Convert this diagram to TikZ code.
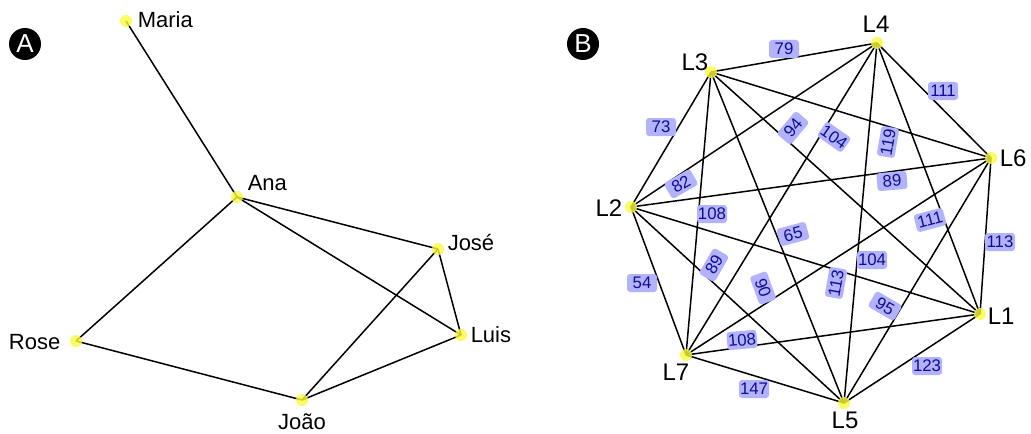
\documentclass[tikz,border=0pt]{standalone}
\usepackage{fontspec}
\setmainfont{Liberation Sans}
\usepackage{tikz}

\definecolor{spot}{RGB}{250,250,60}
\definecolor{wfill}{RGB}{178,178,255}
\definecolor{wtext}{RGB}{15,15,140}
\tikzset{
  spotnode/.style={circle,fill=spot,fill opacity=.8,inner sep=0pt,minimum size=6pt},
  person/.style={inner sep=0pt,font=\fontsize{11}{13}\selectfont},
  city/.style={inner sep=0pt,font=\fontsize{12}{14}\selectfont},
  weight/.style={rounded corners=1.5pt,fill=wfill,text=wtext,inner sep=0pt,
    minimum width=15pt,minimum height=9pt,font=\fontsize{8.4}{9}\selectfont},
  panel/.style={circle,fill=black,text=white,inner sep=0pt,minimum size=16pt,
    font=\fontsize{13}{15}\selectfont}
}

\begin{document}
\begin{tikzpicture}[x=0.5pt,y=-0.5pt,line width=0.75pt]
  \useasboundingbox (0,0) rectangle (1031,433);
  \node[panel] (A) at (25,44) {A};
  \node[panel] (B) at (583,44) {B};

  % friendship network
  \foreach \n/\x/\y in {maria/126/21,ana/237/197,jose/438/249,luis/461/335,rose/76/341,joao/302/400}{
    \coordinate (\n) at (\x,\y);
  }
  \foreach \a/\b in {maria/ana,ana/rose,ana/jose,ana/luis,jose/luis,jose/joao,rose/joao,joao/luis}{
    \draw (\a) -- (\b);
  }
  \foreach \n in {maria,ana,jose,luis,rose,joao}{
    \node[spotnode] (\n-dot) at (\n) {};
  }
  \node[person,anchor=west] (maria-txt) at (137,20) {Maria};
  \node[person,anchor=west] (ana-txt) at (247,183) {Ana};
  \node[person,anchor=west] (jose-txt) at (447,243) {José};
  \node[person,anchor=west] (luis-txt) at (470,335) {Luis};
  \node[person,anchor=east] (rose-txt) at (61,342) {Rose};
  \node[person,anchor=base] (joao-txt) at (302,429) {João};

  % distances between the seven cities
  \foreach \n/\x/\y in {L1/980/314,L2/631/207,L3/711/72,L4/877/43,L5/844/403,L6/991/158,L7/686/355}{
    \coordinate (\n) at (\x,\y);
  }
  \foreach \a/\b in {L3/L4,L4/L6,L2/L3,L2/L7,L7/L5,L5/L1,L6/L1,L3/L6,L3/L1,L3/L5,L3/L7,
                     L4/L2,L4/L7,L4/L5,L4/L1,L2/L6,L2/L1,L2/L5,L7/L6,L7/L1,L5/L6}{
    \draw (\a) -- (\b);
  }
  \foreach \a/\b/\w/\x/\y/\r in {
      L3/L4/79/784/49/0, L4/L6/111/943/91/0, L2/L3/73/661/127/0,
      L2/L7/54/642/283/0, L7/L5/147/754/389/0, L5/L1/123/927/366/0,
      L6/L1/113/1000/242/0, L3/L6/119/888/142/80, L3/L1/94/793/128/50,
      L3/L5/65/793/234/15, L3/L7/108/712/214/0, L4/L2/82/681/184/30,
      L4/L7/104/834/137/-35, L4/L5/104/872/260/0, L4/L1/111/930/220/15,
      L2/L6/89/892/181/5, L2/L1/113/836/283/80, L2/L5/89/714/265/60,
      L7/L6/90/763/288/-70, L7/L1/108/742/340/5, L5/L6/95/885/306/-30}{
    \node[weight,rotate=\r] (w-\a-\b) at (\x,\y) {\w};
  }
  \foreach \n in {L1,L2,L3,L4,L5,L6,L7}{
    \node[spotnode] (\n-dot) at (\n) {};
  }
  \node[city,anchor=base] (L4-txt) at (876,33) {L4};
  \node[city,anchor=base east] (L3-txt) at (709,70) {L3};
  \node[city,anchor=base west] (L6-txt) at (999,166) {L6};
  \node[city,anchor=base east] (L2-txt) at (623,216) {L2};
  \node[city,anchor=base west] (L1-txt) at (987,324) {L1};
  \node[city,anchor=base east] (L7-txt) at (690,380) {L7};
  \node[city,anchor=base] (L5-txt) at (845,428) {L5};
\end{tikzpicture}
\end{document}
